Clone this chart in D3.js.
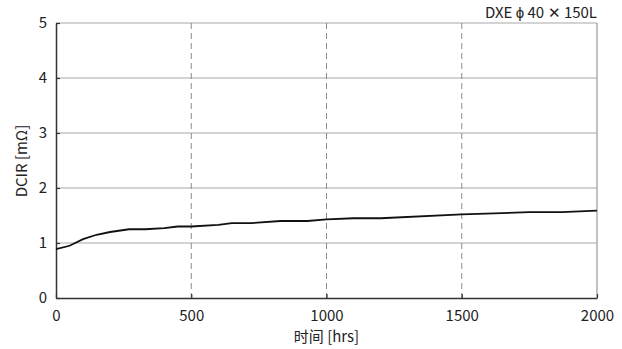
<!DOCTYPE html>
<html>
<head>
<meta charset="utf-8">
<script src="https://cdn.jsdelivr.net/npm/d3@7"></script>
<style>
  body { margin: 0; background: #fff; }
  text { font-family: "Noto Sans CJK JP", "Liberation Sans", sans-serif; fill: #222; }
</style>
</head>
<body>
<div id="chart"></div>
<script>
// data
var hours = [0, 50, 100, 150, 200, 270, 330, 400, 450, 500, 600, 650, 720, 830, 930, 1000, 1100, 1200, 1500, 1750, 1870, 2000];
var dcir  = [0.89, 0.95, 1.07, 1.15, 1.20, 1.25, 1.25, 1.27, 1.30, 1.30, 1.33, 1.36, 1.36, 1.40, 1.40, 1.43, 1.45, 1.45, 1.52, 1.56, 1.56, 1.59];
var xTicks = [0, 500, 1000, 1500, 2000];
var yTicks = [0, 1, 2, 3, 4, 5];
var title = "DXE \u03d5 40 \u2715 150L";
var xLabel = "时间 [hrs]";
var yLabel = "DCIR [mΩ]";

var width = 622, height = 349;
var margin = {top: 23, right: 25, bottom: 51, left: 56};

var svg = d3.select("#chart").append("svg")
  .attr("width", width)
  .attr("height", height);

var x = d3.scaleLinear().domain([0, 2000]).range([margin.left, width - margin.right]);
var y = d3.scaleLinear().domain([0, 5]).range([height - margin.bottom, margin.top]);

// horizontal grid
svg.append("g").selectAll("line")
  .data(yTicks.filter(d => d > 0))
  .enter().append("line")
  .attr("x1", x(0)).attr("x2", x(2000))
  .attr("y1", d => y(d)).attr("y2", d => y(d))
  .attr("stroke", "#c4c4c4")
  .attr("stroke-width", 1.4);

// vertical dashed grid
svg.append("g").selectAll("line")
  .data(xTicks.filter(d => d > 0 && d < 2000))
  .enter().append("line")
  .attr("x1", d => x(d)).attr("x2", d => x(d))
  .attr("y1", y(5)).attr("y2", y(0))
  .attr("stroke", "#8a8a8a")
  .attr("stroke-width", 1)
  .attr("stroke-dasharray", "6,4");

// right border
svg.append("line")
  .attr("x1", x(2000)).attr("x2", x(2000))
  .attr("y1", y(5)).attr("y2", y(0))
  .attr("stroke", "#9a9a9a")
  .attr("stroke-width", 1.2);

// axes (ticks point inward)
var xAxis = d3.axisBottom(x).tickValues(xTicks).tickFormat(d3.format("d"))
  .tickSizeInner(-4).tickSizeOuter(0).tickPadding(12);
var yAxis = d3.axisLeft(y).tickValues(yTicks).tickFormat(d3.format("d"))
  .tickSizeInner(-4).tickSizeOuter(0).tickPadding(9);

var gx = svg.append("g")
  .attr("transform", "translate(0," + y(0) + ")")
  .call(xAxis);
var gy = svg.append("g")
  .attr("transform", "translate(" + x(0) + ",0)")
  .call(yAxis);

[gx, gy].forEach(function(g) {
  g.select(".domain").attr("stroke", "#333").attr("stroke-width", 1.5);
  g.selectAll(".tick line").attr("stroke", "#333").attr("stroke-width", 1.2);
  g.selectAll(".tick text").style("font-size", "15px").attr("fill", "#222")
    .style("font-family", "\"Noto Sans CJK JP\", \"Liberation Sans\", sans-serif");
});

// data line
var line = d3.line()
  .x((d, i) => x(hours[i]))
  .y(d => y(d));

svg.append("path")
  .datum(dcir)
  .attr("d", line)
  .attr("fill", "none")
  .attr("stroke", "#111")
  .attr("stroke-width", 1.8);

// labels
svg.append("text")
  .attr("x", x(1000))
  .attr("y", 342)
  .attr("text-anchor", "middle")
  .style("font-size", "15px")
  .text(xLabel);

svg.append("text")
  .attr("transform", "translate(27,161) rotate(-90)")
  .attr("text-anchor", "middle")
  .style("font-size", "15px")
  .text(yLabel);

svg.append("text")
  .attr("x", 597)
  .attr("y", 18)
  .attr("text-anchor", "end")
  .style("font-size", "15px")
  .text(title);
</script>
</body>
</html>
